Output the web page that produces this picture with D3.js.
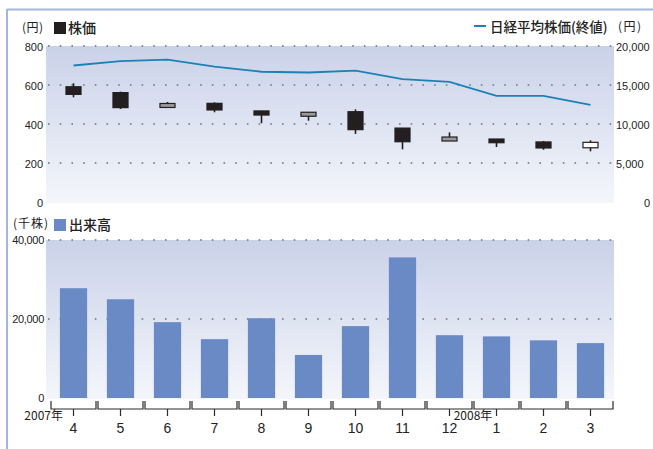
<!DOCTYPE html>
<html>
<head>
<meta charset="utf-8">
<script src="https://cdn.jsdelivr.net/npm/d3@7"></script>
<style>
  html, body { margin: 0; padding: 0; background: #fff; }
  svg { display: block; }
  text { font-family: "Liberation Sans", Arial, sans-serif; }
  .jp { font-family: "Noto Sans CJK JP", sans-serif; }
</style>
</head>
<body>
<svg id="chart" width="653" height="449"></svg>
<script>
// Months (fiscal year April 2007 – March 2008)
const months = ["4", "5", "6", "7", "8", "9", "10", "11", "12", "1", "2", "3"];

// Monthly share price (円)
const priceOpen  = [591, 561, 495, 506, 467, 450, 463, 379, 323, 323, 308, 278];
const priceClose = [552, 484, 495, 472, 446, 450, 371, 309, 323, 304, 277, 306];
const priceHigh  = [609, 566, 513, 511, 467, 462, 475, 379, 357, 323, 313, 316];
const priceLow   = [537, 477, 484, 460, 404, 417, 349, 270, 318, 282, 268, 260];

// Nikkei average, month-end close (円)
const nikkei = [17500, 18050, 18250, 17350, 16700, 16600, 16850, 15750, 15400, 13600, 13600, 12450];

// Trading volume (千株)
const volume = [27800, 25000, 19200, 14900, 20200, 10900, 18200, 35600, 15900, 15600, 14600, 13900];

// Axis ticks
const priceTicks  = [0, 200, 400, 600, 800];
const nikkeiTicks = [0, 5000, 10000, 15000, 20000];
const volumeTicks = [0, 20000, 40000];

const svg = d3.select("#chart");
const fmt = d3.format(",");

const plotL = 46, plotR = 614;
const x = d3.scaleBand().domain(months).range([50, 614]).padding(0);
const cx = m => x(m) + x.bandwidth() / 2;

const yPrice  = d3.scaleLinear().domain([0, 800]).range([202, 46]);
const yNikkei = d3.scaleLinear().domain([0, 20000]).range([202, 46]);
const yVol    = d3.scaleLinear().domain([0, 40000]).range([398, 240]);

// Background gradient for both panels
const defs = svg.append("defs");
const grad = defs.append("linearGradient").attr("id", "bg").attr("x1", 0).attr("y1", 0).attr("x2", 0).attr("y2", 1);
grad.append("stop").attr("offset", "0%").attr("stop-color", "#cad2e9");
grad.append("stop").attr("offset", "100%").attr("stop-color", "#f4f6fb");

// Outer frame
svg.append("line").attr("x1", 7).attr("x2", 653).attr("y1", 9.5).attr("y2", 9.5)
  .attr("stroke", "#a3b6db").attr("stroke-width", 2);
svg.append("line").attr("x1", 7).attr("x2", 7).attr("y1", 9).attr("y2", 449)
  .attr("stroke", "#a3b6db").attr("stroke-width", 2);

// ---------- Price panel ----------
svg.append("rect").attr("x", plotL).attr("y", yPrice(800)).attr("width", plotR - plotL)
  .attr("height", yPrice(0) - yPrice(800) + 1).attr("fill", "url(#bg)");

const grid = (sel, ticks, scale) => sel.selectAll(null).data(ticks).join("line")
  .attr("x1", plotL + 2).attr("x2", plotR).attr("y1", d => scale(d)).attr("y2", d => scale(d))
  .attr("stroke", "#8a8e99").attr("stroke-width", 2).attr("stroke-dasharray", "1.6,10.1");

grid(svg.append("g"), priceTicks.filter(d => d > 0), yPrice);

// Left price axis
svg.append("g").selectAll("text").data(priceTicks).join("text")
  .attr("x", 43).attr("y", d => yPrice(d) + 1).attr("dy", "0.35em")
  .attr("text-anchor", "end").attr("font-size", 11).attr("fill", "#222")
  .text(d => d);

// Right Nikkei axis
svg.append("g").selectAll("text").data(nikkeiTicks).join("text")
  .attr("x", 616).attr("y", d => yNikkei(d) + 1).attr("dy", "0.35em")
  .attr("text-anchor", "start").attr("font-size", 11).attr("fill", "#222")
  .text(d => fmt(d)).attr("dx", d => d === 0 ? 28 : 0);

// Nikkei line
svg.append("path")
  .datum(months.map((m, i) => [cx(m), yNikkei(nikkei[i])]))
  .attr("d", d3.line())
  .attr("fill", "none").attr("stroke", "#1a82b4").attr("stroke-width", 1.8);

// Candlesticks
const bodyW = x.bandwidth() * 0.32;
const candles = svg.append("g").selectAll("g").data(months).join("g");
candles.append("line")
  .attr("x1", m => cx(m)).attr("x2", m => cx(m))
  .attr("y1", (m, i) => yPrice(priceHigh[i])).attr("y2", (m, i) => yPrice(priceLow[i]))
  .attr("stroke", "#1e1e1e").attr("stroke-width", 1.6);
candles.append("rect")
  .attr("x", m => cx(m) - bodyW / 2).attr("width", bodyW)
  .attr("y", (m, i) => {
    const o = priceOpen[i], c = priceClose[i];
    return o === c ? yPrice(o) - 2 : yPrice(Math.max(o, c));
  })
  .attr("height", (m, i) => {
    const o = priceOpen[i], c = priceClose[i];
    return o === c ? 4 : Math.abs(yPrice(o) - yPrice(c));
  })
  .attr("fill", (m, i) => priceOpen[i] === priceClose[i] ? "#9a9a9a"
                         : priceClose[i] > priceOpen[i] ? "#ffffff" : "#231f20")
  .attr("stroke", "#231f20").attr("stroke-width", 1.2);

// Price legends
svg.append("text").attr("class", "jp").attr("x", 22).attr("y", 28).attr("dy", "0.35em")
  .attr("font-size", 12).attr("fill", "#222").attr("letter-spacing", 0.5).text("(円)");
svg.append("rect").attr("x", 54).attr("y", 22).attr("width", 12).attr("height", 12).attr("fill", "#231f20");
svg.append("text").attr("class", "jp").attr("x", 68).attr("y", 28).attr("dy", "0.35em")
  .attr("font-size", 14).attr("font-weight", 500).attr("fill", "#222").text("株価");

svg.append("line").attr("x1", 474).attr("x2", 486).attr("y1", 26).attr("y2", 26)
  .attr("stroke", "#1a82b4").attr("stroke-width", 2);
svg.append("text").attr("class", "jp").attr("x", 490).attr("y", 27).attr("dy", "0.35em")
  .attr("font-size", 13.5).attr("font-weight", 500).attr("fill", "#222").text("日経平均株価(終値)");
svg.append("text").attr("class", "jp").attr("x", 618).attr("y", 27).attr("dy", "0.35em")
  .attr("font-size", 12).attr("fill", "#222").attr("letter-spacing", 1.5).text("(円)");

// ---------- Volume panel ----------
svg.append("rect").attr("x", plotL).attr("y", yVol(40000)).attr("width", plotR - plotL)
  .attr("height", yVol(0) - yVol(40000) + 1).attr("fill", "url(#bg)");
grid(svg.append("g"), volumeTicks.filter(d => d > 0), yVol);

svg.append("g").selectAll("text").data(volumeTicks).join("text")
  .attr("x", 44).attr("y", d => yVol(d)).attr("dy", "0.35em")
  .attr("text-anchor", "end").attr("font-size", 11).attr("fill", "#222")
  .attr("letter-spacing", -0.3)
  .text(d => fmt(d));

const barW = x.bandwidth() * 0.58;
svg.append("g").selectAll("rect").data(months).join("rect")
  .attr("x", m => cx(m) - barW / 2).attr("width", barW)
  .attr("y", (m, i) => yVol(volume[i]))
  .attr("height", (m, i) => yVol(0) - yVol(volume[i]))
  .attr("fill", "#6a8ac6");

svg.append("text").attr("class", "jp").attr("x", 13).attr("y", 224).attr("dy", "0.35em")
  .attr("font-size", 12).attr("fill", "#222").attr("letter-spacing", 1).text("(千株)");
svg.append("rect").attr("x", 54).attr("y", 219).attr("width", 12).attr("height", 12).attr("fill", "#6a8ac6");
svg.append("text").attr("class", "jp").attr("x", 69).attr("y", 225).attr("dy", "0.35em")
  .attr("font-size", 14).attr("font-weight", 500).attr("fill", "#222").text("出来高");

// ---------- Month axis ----------
const axisY = 409;
const axis = svg.append("g").attr("stroke", "#2b2b2b").attr("stroke-width", 1.2).attr("fill", "none");
months.forEach(m => {
  const a = x(m) + 1, b = x(m) + x.bandwidth() - 1;
  axis.append("path").attr("d", `M${a},${axisY - 8}V${axisY}H${b}V${axisY - 8}`);
  axis.append("line").attr("x1", cx(m)).attr("x2", cx(m)).attr("y1", axisY).attr("y2", axisY + 7);
});

svg.append("g").selectAll("text").data(months).join("text")
  .attr("x", m => cx(m)).attr("y", 428).attr("dy", "0.35em")
  .attr("text-anchor", "middle").attr("font-size", 14).attr("fill", "#222")
  .text(m => m);

svg.append("text").attr("class", "jp").attr("x", 63).attr("y", 416).attr("dy", "0.35em")
  .attr("text-anchor", "end").attr("font-size", 12).attr("fill", "#222").text("2007年");
svg.append("text").attr("class", "jp").attr("x", x("1")).attr("y", 416).attr("dy", "0.35em")
  .attr("text-anchor", "middle").attr("font-size", 12).attr("fill", "#222").text("2008年");
</script>
</body>
</html>
